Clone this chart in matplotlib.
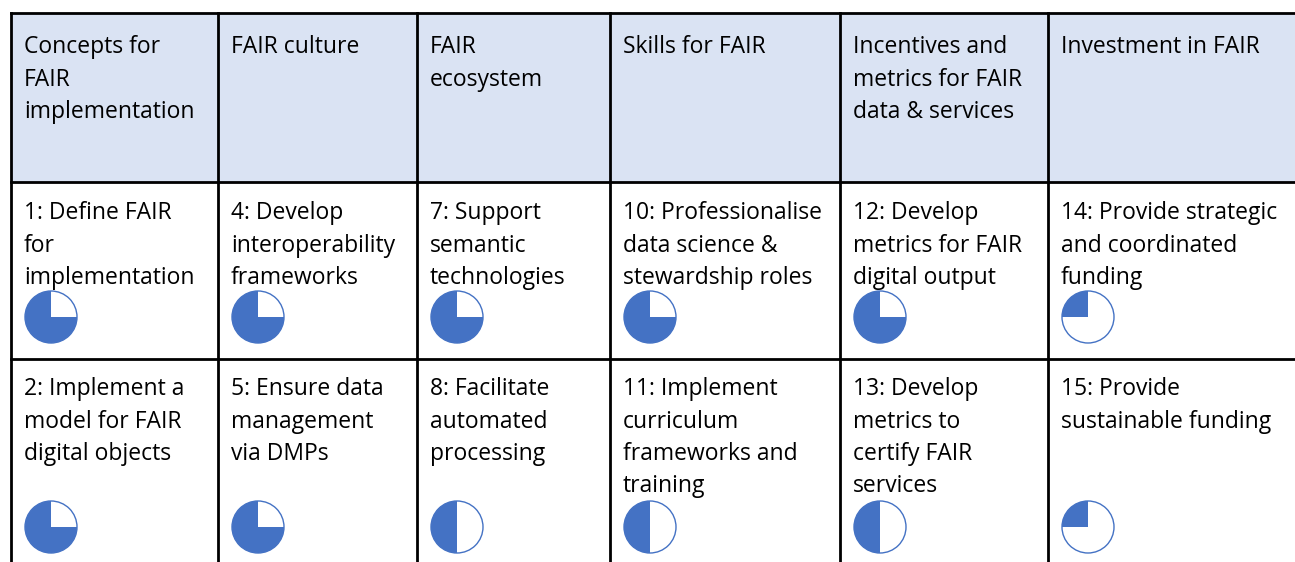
import matplotlib
matplotlib.use('Agg')
import matplotlib.pyplot as plt
from matplotlib.patches import Wedge, Circle, Rectangle

# table content
headers = ["Concepts for\nFAIR\nimplementation", "FAIR culture", "FAIR\necosystem",
           "Skills for FAIR", "Incentives and\nmetrics for FAIR\ndata & services",
           "Investment in FAIR"]
row1_labels = ["1: Define FAIR\nfor\nimplementation", "4: Develop\ninteroperability\nframeworks",
               "7: Support\nsemantic\ntechnologies", "10: Professionalise\ndata science &\nstewardship roles",
               "12: Develop\nmetrics for FAIR\ndigital output", "14: Provide strategic\nand coordinated\nfunding"]
row1_progress = [0.75, 0.75, 0.75, 0.75, 0.75, 0.25]
row2_labels = ["2: Implement a\nmodel for FAIR\ndigital objects", "5: Ensure data\nmanagement\nvia DMPs",
               "8: Facilitate\nautomated\nprocessing", "11: Implement\ncurriculum\nframeworks and\ntraining",
               "13: Develop\nmetrics to\ncertify FAIR\nservices", "15: Provide\nsustainable funding"]
row2_progress = [0.75, 0.75, 0.5, 0.5, 0.5, 0.25]

W, H = 1295, 562
col_edges = [11, 218, 417, 610, 840, 1048]
row_edges = [13, 182, 359]
header_fill = '#DAE3F3'
blue = '#4472C4'
lw = 2.0
fs = 16.5
line_h = 32.5

fig = plt.figure(figsize=(W / 100, H / 100), dpi=100)
ax = fig.add_axes([0, 0, 1, 1])
ax.set_xlim(0, W)
ax.set_ylim(H, 0)
ax.axis('off')

# header band
ax.add_patch(Rectangle((col_edges[0], row_edges[0]), W - col_edges[0], row_edges[1] - row_edges[0],
                       facecolor=header_fill, edgecolor='none', zorder=0))

# grid lines
for y in row_edges:
    ax.plot([col_edges[0], W], [y, y], color='black', lw=lw, solid_capstyle='projecting', zorder=3)
for x in col_edges:
    ax.plot([x, x], [row_edges[0], H], color='black', lw=lw, solid_capstyle='projecting', zorder=3)


def put_text(x, y0, text):
    for i, line in enumerate(text.split('\n')):
        ax.text(x, y0 + i * line_h, line, fontsize=fs, family='Open Sans',
                va='baseline', ha='left', color='black')


def harvey(cx, cy, frac, r=26):
    ax.add_patch(Circle((cx, cy), r, facecolor='white', edgecolor=blue, lw=1.0, zorder=2))
    # y axis is inverted, so going counter-clockwise on screen means negative angles
    ax.add_patch(Wedge((cx, cy), r, -90 - 360 * frac, -90, facecolor=blue,
                       edgecolor='none', zorder=2))


for i, x in enumerate(col_edges):
    put_text(x + 13, 53, headers[i])
    put_text(x + 13, 219, row1_labels[i])
    put_text(x + 13, 395, row2_labels[i])
    harvey(x + 40, 317, row1_progress[i])
    harvey(x + 40, 527, row2_progress[i])

fig.savefig('out.png', dpi=100)
